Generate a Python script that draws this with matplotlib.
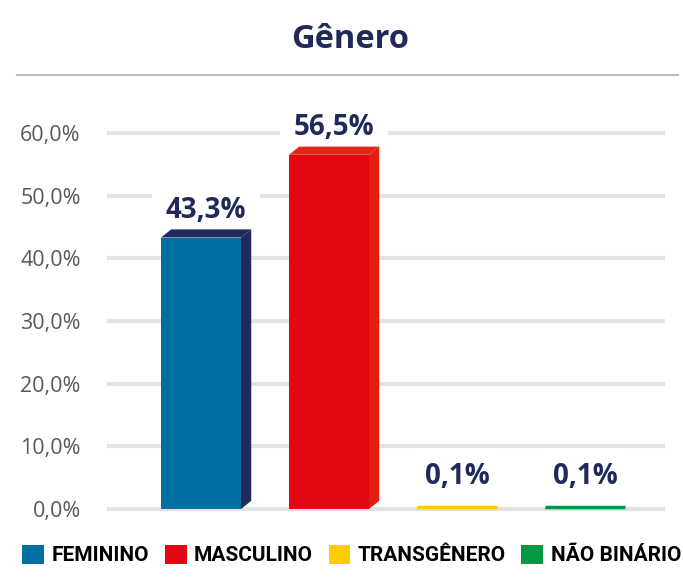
import matplotlib
matplotlib.use("Agg")
import matplotlib.pyplot as plt
from matplotlib.patches import Polygon, Patch
from matplotlib.lines import Line2D

categories = ["FEMININO", "MASCULINO", "TRANSGÊNERO", "NÃO BINÁRIO"]
values = [43.3, 56.5, 0.1, 0.1]
value_labels = ["43,3%", "56,5%", "0,1%", "0,1%"]
yticks = [0, 10, 20, 30, 40, 50, 60]
ytick_labels = ["0,0%", "10,0%", "20,0%", "30,0%", "40,0%", "50,0%", "60,0%"]

front_colors = ["#0070a3", "#e30613", "#ffcc00", "#009a44"]
side_colors = ["#1e2a5c", "#e3200f", "#ffcc00", "#009a44"]
top_colors = ["#1e2a5c", "#e3261b", "#ffcc00", "#009a44"]
navy = "#1f2a5a"

plt.rcParams['font.family'] = ['Open Sans', 'DejaVu Sans']

fig = plt.figure(figsize=(6.83, 5.85), dpi=100)
ax = fig.add_axes([0.1567, 0.1192, 0.817, 0.6752])

width = 0.625
dx, dy = 0.08, 1.3
x = list(range(len(categories)))

bars = ax.bar(x, values, width=width, color=front_colors, zorder=3,
              linewidth=0)
for i, b in enumerate(bars):
    v = values[i]
    x0 = b.get_x()
    x1 = x0 + width
    if v > 1:
        top = Polygon([(x0, v), (x0 + dx, v + dy), (x1 + dx, v + dy), (x1, v)],
                      closed=True, facecolor=top_colors[i], edgecolor='none', zorder=3)
        side = Polygon([(x1, 0), (x1, v), (x1 + dx, v + dy), (x1 + dx, dy)],
                       closed=True, facecolor=side_colors[i], edgecolor='none', zorder=3)
        ax.add_patch(top)
        ax.add_patch(side)
        cx = x[i] + dx / 2
        off = 2.0
    else:
        # tiny bars show as a thin strip
        ax.plot([x0, x1], [0.35, 0.35], color=front_colors[i], lw=2.5,
                solid_capstyle='butt', zorder=3)
        cx = x[i]
        off = 2.8
    ax.text(cx, v + off, value_labels[i], ha='center', va='bottom',
            fontsize=20, fontweight='bold', color=navy, zorder=2,
            bbox=dict(boxstyle='square,pad=0.5', facecolor='white',
                      edgecolor='none'))

ax.set_xlim(-0.734, 3.625)
ax.set_ylim(-1, 62)
ax.set_yticks(yticks)
ax.set_yticklabels(ytick_labels, fontsize=15.5, color="#595959")
ax.set_xticks([])
ax.tick_params(axis='y', length=0, pad=19)
ax.yaxis.grid(True, color="#e3e3e3", linewidth=3, zorder=0)
ax.set_axisbelow(True)
for s in ax.spines.values():
    s.set_visible(False)

# title and separator
fig.text(0.512, 0.932, "Gênero", ha='center', va='center', fontsize=23.5,
         fontweight='bold', color=navy)
fig.add_artist(Line2D([17 / 683, 678 / 683], [1 - 75 / 585, 1 - 75 / 585],
                      color="#bdbdbd", lw=1.5, transform=fig.transFigure))

handles = [Patch(facecolor=c, edgecolor='none') for c in front_colors]
fig.legend(handles, categories, loc='center', bbox_to_anchor=(0.515, 1 - 555 / 585),
           ncol=4, frameon=False, handlelength=1.05, handleheight=1.05,
           handletextpad=0.35, columnspacing=0.75,
           prop={'family': ['Roboto', 'DejaVu Sans'],
                 'size': 15, 'weight': 'bold'})

fig.savefig("out.png", dpi=100, facecolor='white')
